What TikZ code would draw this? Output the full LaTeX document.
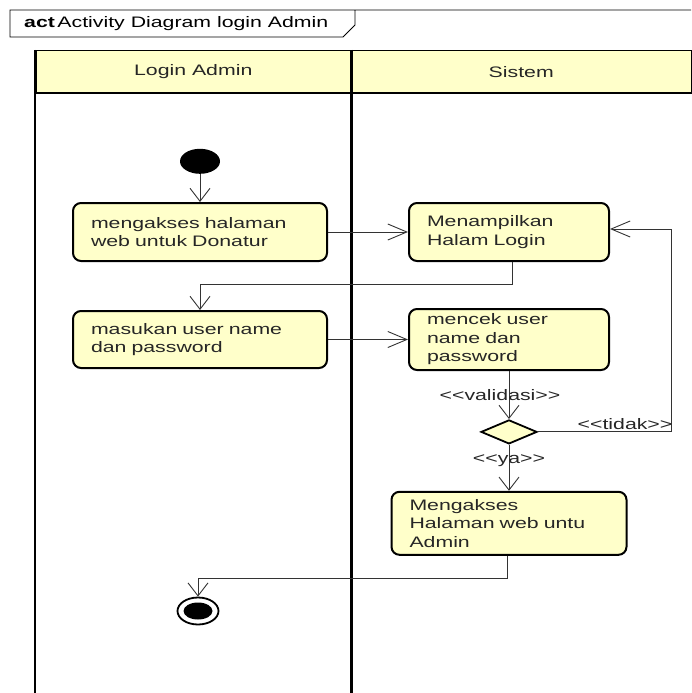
\documentclass[tikz,border=0pt]{standalone}
\usepackage{fontspec}
\setmainfont{Liberation Sans}[FakeStretch=1.4,Ligatures=TeXOff]
\usetikzlibrary{positioning,arrows.meta,shapes.geometric}
\definecolor{umlfill}{HTML}{FFFFCA}

\begin{document}
\begin{tikzpicture}[
  x=1pt,y=-1pt,
  font=\fontsize{15.2}{18.5}\selectfont,
  activity/.style={draw,line width=2pt,rounded corners=8pt,fill=umlfill,align=left,inner xsep=18pt,inner ysep=0pt,text=black!85},
  lanehead/.style={draw,line width=1.5pt,fill=umlfill,minimum height=42pt,inner sep=0pt,anchor=north west,text=black!85},
  decide/.style={diamond,draw,line width=1.8pt,fill=umlfill,minimum width=56pt,minimum height=24pt,inner sep=0pt},
  startdot/.style={ellipse,fill=black,minimum width=40pt,minimum height=25pt,inner sep=0pt},
  enddot/.style={ellipse,draw,line width=1.8pt,minimum width=41pt,minimum height=27pt,inner sep=0pt},
  lbl/.style={inner sep=1.5pt,text=black!85},
  flow/.style={line width=0.9pt,draw=black!80},
  >={Straight Barb[length=13pt,width=20pt]},
  hflow/.style={flow,-{Straight Barb[length=19pt,width=16pt]}}
]
\useasboundingbox (0,0) rectangle (691,693);

% frame tab
\draw[line width=0.9pt] (691,10) -- (10,10) -- (10,37) -- (343,37) -- (355,25) -- (355,10);
\node[anchor=west,inner sep=0pt] (title) at (24,24) {\textbf{act}\,Activity Diagram login Admin};

% swimlanes
\node[lanehead,minimum width=315pt] (laneadmin) at (35,50) {Login Admin};
\node[lanehead,minimum width=341pt] (lanesistem) at (350,50) {Sistem};
\draw[line width=2.6pt] (laneadmin.north west) -- ++(0,643);
\draw[line width=2.6pt] (laneadmin.north east) -- ++(0,643);

% actions
\node[activity,minimum height=58pt,text width=218pt,anchor=north west] (a1) at (72,202) {mengakses halaman\\web untuk Donatur};
\node[activity,minimum height=58pt,text width=164pt,right=80pt of a1] (a2) {Menampilkan\\Halam Login};
\node[activity,minimum height=57pt,text width=218pt,below=48pt of a1] (a3) {masukan user name\\dan password};
\node[activity,minimum height=61pt,text width=164pt,right=80pt of a3] (a4) {mencek user\\name dan\\password};
\node[decide,below=48pt of a4] (dec) {};
\node[activity,minimum height=63pt,text width=199pt,below=46pt of dec] (a5) {Mengakses\\Halaman web untu\\Admin};

\node[startdot,above=28pt of a1] (start) {};
\node[enddot] (stop) at (198,611) {};
\node[ellipse,fill=black,minimum width=29pt,minimum height=17pt,inner sep=0pt] (stopdot) at (stop) {};

% flows
\draw[flow,->] (start) -- (a1);
\draw[hflow] (a1) -- (a2);
\draw[flow,->] ([xshift=3pt]a2.south) -- ++(0,22) -| (a3.north);
\draw[hflow] (a3.east) -- (a3.east -| a4.west);
\draw[flow,->] (a4) -- node[lbl,xshift=-9pt] {<<validasi>>} (dec);
\draw[hflow] (dec.east) -- node[lbl,above,pos=0.65] {<<tidak>>} ++(134,0) |- ([yshift=3pt]a2.east);
\draw[flow,->] (dec) -- node[lbl,pos=0.35] {<<ya>>} (a5);
\draw[flow,->] ([xshift=-2pt]a5.south) -- ++(0,23) -| (stop.north);
\end{tikzpicture}
\end{document}
